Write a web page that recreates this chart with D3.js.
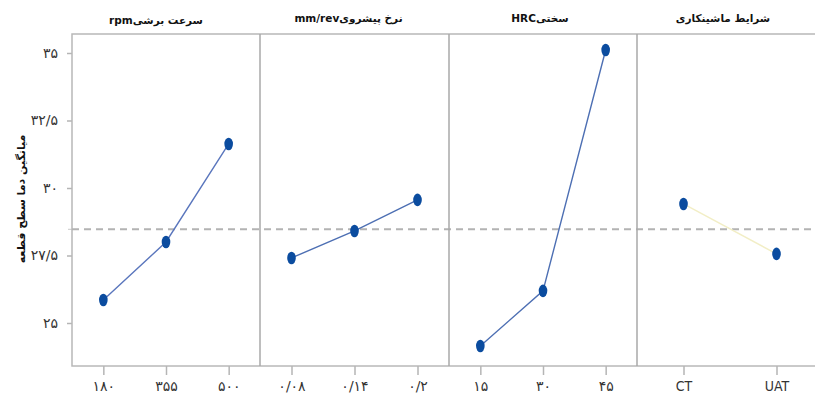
<!DOCTYPE html>
<html lang="fa">
<head>
    <meta charset="UTF-8">
    <title>میانگین دما سطح قطعه</title>
    <script src="https://d3js.org/d3.v7.min.js"></script>
    <style>
        body { margin: 0; background: #fff; }
        text { font-family: "DejaVu Sans", sans-serif; }
    </style>
</head>
<body>
    <div id="chart"></div>

    <script>
        // داده‌ها (خوانده شده از تصویر)
        const panelTitles = ["سرعت برشیrpm", "نرخ  پیشرویmm/rev", "سختیHRC", "شرایط ماشینکاری"];
        const speedLevels = ["۱۸۰", "۳۵۵", "۵۰۰"];
        const speedMeans = [25.85, 28.0, 31.63];
        const feedLevels = ["۰/۰۸", "۰/۱۴", "۰/۲"];
        const feedMeans = [27.41, 28.41, 29.56];
        const hardLevels = ["۱۵", "۳۰", "۴۵"];
        const hardMeans = [24.15, 26.19, 35.11];
        const condLevels = ["CT", "UAT"];
        const condMeans = [29.41, 27.56];
        const grandMean = 28.47;
        const yTicks = [25, 27.5, 30, 32.5, 35];
        const yTickLabels = ["۲۵", "۲۷/۵", "۳۰", "۳۲/۵", "۳۵"];
        const yTitle = "میانگین دما  سطح قطعه";

        const W = 815, H = 396;
        const topY = 34, bottomY = 366;
        const edges = [72, 260, 449, 637, 823];
        const titleShift = [-10, -6, -3, -3];

        const svg = d3.select("#chart").append("svg")
            .attr("width", W)
            .attr("height", H);

        const y = d3.scaleLinear().domain([25, 35]).range([323, 53]);

        const panels = [
            { levels: speedLevels, means: speedMeans, line: "#5a76bd" },
            { levels: feedLevels, means: feedMeans, line: "#4d6fb3" },
            { levels: hardLevels, means: hardMeans, line: "#4d6fb3" },
            { levels: condLevels, means: condMeans, line: "#f2eec6" }
        ];

        // محور عمودی
        const yAxis = svg.append("g")
            .attr("transform", `translate(${edges[0]},0)`)
            .call(d3.axisLeft(y).tickValues(yTicks)
                .tickFormat((d, i) => yTickLabels[i]).tickSize(5).tickPadding(9));
        yAxis.select(".domain").remove();
        yAxis.selectAll("line").attr("stroke", "#b5b5b5").attr("stroke-width", 1.5);
        yAxis.selectAll("text")
            .style("font-size", "14px")
            .attr("fill", "#333");

        // تیک کوچک میانگین
        svg.append("line")
            .attr("x1", edges[0] - 4).attr("x2", edges[0])
            .attr("y1", y(grandMean)).attr("y2", y(grandMean))
            .attr("stroke", "#c8c8c8").attr("stroke-width", 1);

        svg.append("text")
            .attr("transform", "translate(25,199) rotate(-90)")
            .attr("text-anchor", "middle")
            .style("direction", "rtl")
            .style("font-size", "11px")
            .style("font-weight", "bold")
            .attr("fill", "#111")
            .text(yTitle);

        // قاب پنل‌ها
        svg.append("rect")
            .attr("x", edges[0]).attr("y", topY)
            .attr("width", edges[4] - edges[0]).attr("height", bottomY - topY)
            .attr("fill", "none")
            .attr("stroke", "#b8b8b8")
            .attr("stroke-width", 1.5);

        // خط میانگین کل
        svg.append("line")
            .attr("x1", edges[0]).attr("x2", W)
            .attr("y1", y(grandMean)).attr("y2", y(grandMean))
            .attr("stroke", "#b3b3b3")
            .attr("stroke-width", 2)
            .attr("stroke-dasharray", "7,5");

        panels.forEach((p, k) => {
            const x0 = edges[k], x1 = edges[k + 1];
            const x = d3.scalePoint().domain(p.levels).range([x0, x1]).padding(0.5);

            if (k > 0) {
                svg.append("line")
                    .attr("x1", x0).attr("x2", x0)
                    .attr("y1", topY).attr("y2", bottomY)
                    .attr("stroke", "#a9a9a9")
                    .attr("stroke-width", 1.5);
            }

            const xAxis = svg.append("g")
                .attr("transform", `translate(0,${bottomY})`)
                .call(d3.axisBottom(x).tickSize(9).tickPadding(6));
            xAxis.select(".domain").remove();
            xAxis.selectAll("line").attr("stroke", "#b5b5b5").attr("stroke-width", 1.5);
            xAxis.selectAll("text")
                .style("font-size", "14px")
                .style("font-family", k === 3 ? "'Liberation Sans Narrow', 'DejaVu Sans Condensed', sans-serif" : null)
                .attr("fill", "#333");

            svg.append("text")
                .attr("x", (x0 + Math.min(x1, W)) / 2 + titleShift[k])
                .attr("y", k === 0 ? 24 : 22)
                .attr("text-anchor", "middle")
                .style("direction", "rtl")
                .style("font-size", "10.5px")
                .style("font-weight", "bold")
                .attr("fill", "#111")
                .text(panelTitles[k]);

            const pts = p.levels.map((l, i) => ({ l: l, v: p.means[i] }));

            svg.append("path")
                .datum(pts)
                .attr("fill", "none")
                .attr("stroke", p.line)
                .attr("stroke-width", 1.4)
                .attr("d", d3.line().x(d => x(d.l)).y(d => y(d.v)));

            svg.selectAll(".dot" + k)
                .data(pts)
                .enter().append("ellipse")
                .attr("class", "dot" + k)
                .attr("cx", d => x(d.l))
                .attr("cy", d => y(d.v))
                .attr("rx", 4.3)
                .attr("ry", 6.3)
                .attr("fill", "#0b4c9f");
        });
    </script>
</body>
</html>
